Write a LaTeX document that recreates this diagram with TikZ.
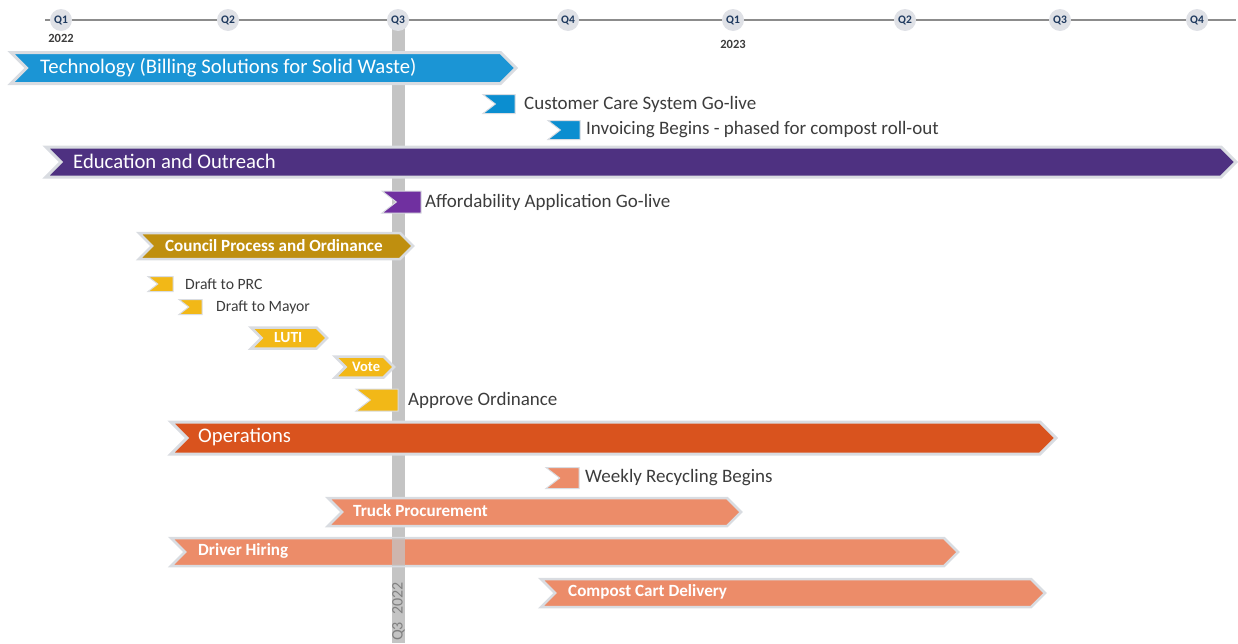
\documentclass[tikz,border=0pt]{standalone}
\usepackage{fontspec}
\setmainfont{Carlito}
\usetikzlibrary{positioning}

\definecolor{outline_gray}{HTML}{D9DCE1}
\definecolor{axis_gray}{HTML}{8C8C8C}
\definecolor{quarter_fill}{HTML}{DFE1E6}
\definecolor{quarter_navy}{HTML}{1F3A5F}
\definecolor{today_gray}{HTML}{C4C4C4}
\definecolor{label_gray}{HTML}{3C3C3C}
\definecolor{tech_blue}{HTML}{1B95D5}
\definecolor{milestone_blue}{HTML}{0B8ED0}
\definecolor{outreach_purple}{HTML}{4E3181}
\definecolor{milestone_purple}{HTML}{7030A0}
\definecolor{council_gold}{HTML}{BF8F0F}
\definecolor{step_gold}{HTML}{F2B817}
\definecolor{ops_orange}{HTML}{D9531E}
\definecolor{ops_salmon}{HTML}{EC8C69}

% chevron bar: name, x start, x end, y centre, half height, style
\newcommand{\phasebar}[6]{%
    \fill[#6] (#2,#4-#5) -- (#3-#5,#4-#5) -- (#3,#4) -- (#3-#5,#4+#5)
        -- (#2,#4+#5) -- (#2+#5,#4) -- cycle;
    \coordinate (#1) at (#2+#5,#4);}
% milestone flag: name, x start, x end, y centre, half height, style
\newcommand{\milestoneflag}[6]{%
    \fill[#6] (#2,#4-#5) -- (#3,#4-#5) -- (#3,#4+#5) -- (#2,#4+#5)
        -- (#2+1.3*#5,#4) -- cycle;
    \coordinate (#1) at (#3,#4);}

\tikzset{
        % Quarter markers on the axis
        quarter_node/.style={circle, fill=quarter_fill, minimum size=22pt, inner sep=0pt, text=quarter_navy, font=\fontsize{11.5}{11.5}\selectfont\bfseries},
        % Year labels
        year_text/.style={inner sep=0pt, text=label_gray, font=\fontsize{12.5}{12.5}\selectfont\bfseries},
        % Phase bars
        phase_big/.style={draw=outline_gray, line width=3pt},
        phase_small/.style={draw=outline_gray, line width=2.5pt},
        % Milestone flags
        flag/.style={draw=outline_gray, line width=1pt},
        % Texts inside bars
        bar_text/.style={anchor=west, inner sep=0pt, text=white, font=\fontsize{20.7}{20.7}\selectfont},
        sub_text/.style={anchor=west, inner sep=0pt, text=white, font=\fontsize{17.1}{17.1}\selectfont\bfseries},
        % Texts next to flags
        flag_text/.style={anchor=west, inner sep=0pt, text=label_gray, font=\fontsize{19}{19}\selectfont},
        step_text/.style={anchor=west, inner sep=0pt, text=label_gray, font=\fontsize{15.7}{15.7}\selectfont}
}

\begin{document}
\begin{tikzpicture}[x=1pt, y=-1pt]
    \useasboundingbox (0,0) rectangle (1238,643);

    % today marker
    \fill[today_gray] (392,20) rectangle (405,643);
    \node[rotate=90, anchor=west, inner sep=0pt, text=gray, font=\fontsize{16}{16}\selectfont] (today_text) at (398.5,641) {Q3\ \ 2022};

    % axis
    \coordinate (axis_start) at (45,20);
    \coordinate (axis_end) at (1236,20);
    \draw[axis_gray, line width=1.6pt] (axis_start) -- (axis_end);
    \foreach \qx/\ql [count=\i] in {61/Q1, 228/Q2, 398/Q3, 568/Q4, 733/Q1, 905/Q2, 1060/Q3, 1197/Q4}
        \node[quarter_node] (q\i) at (\qx,20) {\ql};
    \node[year_text, below=3pt of q1] (year_a) {2022};
    \node[year_text, below=9pt of q5] (year_b) {2023};

    % technology
    \phasebar{tech}{11}{516}{68}{15.5}{phase_big, fill=tech_blue}
    \node[bar_text] (tech_text) at (40,68) {Technology (Billing Solutions for Solid Waste)};
    \milestoneflag{care}{483}{515}{104}{9.5}{flag, fill=milestone_blue}
    \node[flag_text] (care_text) at (524,104) {Customer Care System Go-live};
    \milestoneflag{invoice}{548}{580}{130}{9.5}{flag, fill=milestone_blue}
    \node[flag_text] (invoice_text) at (586,130) {Invoicing Begins - phased for compost roll-out};

    % education and outreach
    \phasebar{outreach}{46}{1236}{162}{15}{phase_big, fill=outreach_purple}
    \node[bar_text] (outreach_text) at (73,161) {Education and Outreach};
    \milestoneflag{afford}{382}{421}{202}{11}{flag, fill=milestone_purple}
    \node[flag_text] (afford_text) at (425,202) {Affordability Application Go-live};

    % council process
    \phasebar{council}{139}{413}{246}{13}{phase_small, fill=council_gold}
    \node[sub_text] (council_text) at (165,246) {Council Process and Ordinance};
    \milestoneflag{prc}{148}{173}{284}{7.5}{flag, fill=step_gold}
    \node[step_text] (prc_text) at (185,284) {Draft to PRC};
    \milestoneflag{mayor}{179}{202}{307}{7.5}{flag, fill=step_gold}
    \node[step_text] (mayor_text) at (216,307) {Draft to Mayor};
    \phasebar{luti}{251}{327}{338}{10.5}{phase_small, fill=step_gold}
    \node[sub_text, font=\fontsize{15.5}{15.5}\selectfont\bfseries] (luti_text) at (274,338) {LUTI};
    \phasebar{vote}{335}{394}{367}{10.5}{phase_small, fill=step_gold}
    \node[sub_text, font=\fontsize{14.5}{14.5}\selectfont\bfseries] (vote_text) at (352,367) {Vote};
    \milestoneflag{approve}{356}{398}{400}{11}{flag, fill=step_gold}
    \node[flag_text] (approve_text) at (408,400) {Approve Ordinance};

    % operations
    \phasebar{ops}{171}{1056}{438}{16}{phase_big, fill=ops_orange}
    \node[bar_text] (ops_text) at (198,437) {Operations};
    \milestoneflag{weekly}{546}{579}{478}{10.5}{flag, fill=ops_salmon}
    \node[flag_text] (weekly_text) at (585,478) {Weekly Recycling Begins};
    \phasebar{truck}{328}{741}{512}{14}{phase_small, fill=ops_salmon}
    \node[sub_text] (truck_text) at (353,511) {Truck Procurement};
    \phasebar{driver}{171}{958}{552}{14}{phase_small, fill=ops_salmon}
    \node[sub_text] (driver_text) at (198,551) {Driver Hiring};
    \fill[today_gray, opacity=0.75] (392,538) rectangle (405,566);
    \phasebar{compost}{541}{1045}{593}{14}{phase_small, fill=ops_salmon}
    \node[sub_text] (compost_text) at (568,592) {Compost Cart Delivery};
\end{tikzpicture}
\end{document}
